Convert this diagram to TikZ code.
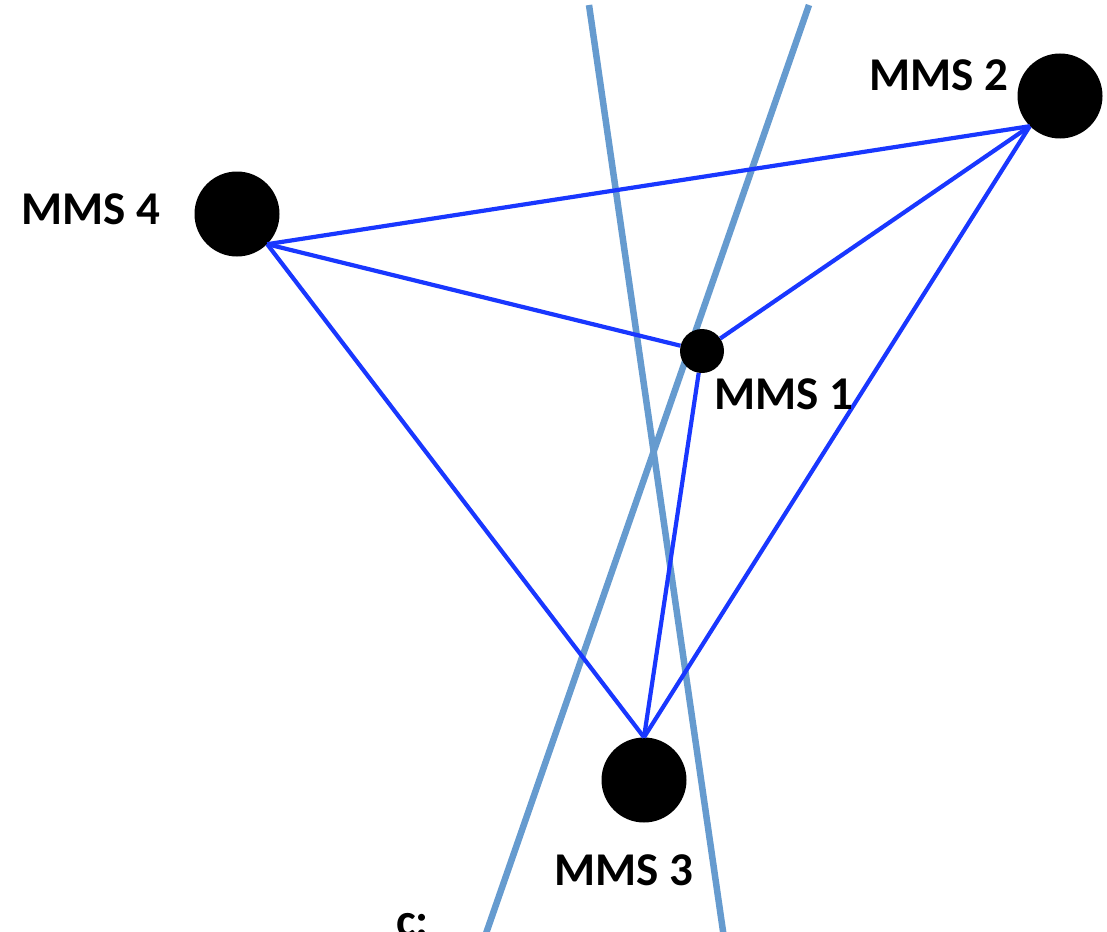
\documentclass[tikz,border=0pt]{standalone}
\usepackage{fontspec}
\setmainfont{Carlito}
\definecolor{linkblue}{RGB}{25,55,255}
\definecolor{axisblue}{RGB}{102,155,207}
\tikzset{
  sat/.style={circle,fill=black,inner sep=0pt},
  bigsat/.style={sat,minimum size=85pt},
  smallsat/.style={sat,minimum size=44pt},
  lbl/.style={font=\fontsize{47}{56}\selectfont\bfseries,inner sep=0pt},
  link/.style={draw=linkblue,line width=4.2pt},
  axis/.style={draw=axisblue,line width=6.5pt}
}
\begin{document}
\begin{tikzpicture}[x=1pt,y=-1pt]
\useasboundingbox (0,0) rectangle (1107,931);
\clip (0,0) rectangle (1107,931);
% light blue lines
\coordinate (a1) at (589,5);
\coordinate (a2) at (725,945);
\coordinate (b1) at (809,5);
\coordinate (b2) at (482,945);
\draw[axis] (a1) -- (a2);
\draw[axis] (b1) -- (b2);
% satellites
\node[smallsat] (m1) at (702,351) {};
\node[bigsat] (m2) at (1060,96) {};
\node[bigsat] (m3) at (644,780) {};
\node[bigsat] (m4) at (237,214) {};
% links
\draw[link] (m4.south east) -- (m2.south west);
\draw[link] (m4.south east) -- (m1);
\draw[link] (m4.south east) -- (m3.north);
\draw[link] (m1) -- (m2.south west);
\draw[link] (m1) -- (m3.north);
\draw[link] (m2.south west) -- (m3.north);
% labels
\node[lbl] (l1) at (784,394) {MMS 1};
\node[lbl] (l2) at (939,75) {MMS 2};
\node[lbl] (l3) at (624,870) {MMS 3};
\node[lbl] (l4) at (91,209) {MMS 4};
\node[lbl,anchor=base west] (lc) at (396,936) {c:};
\end{tikzpicture}
\end{document}
